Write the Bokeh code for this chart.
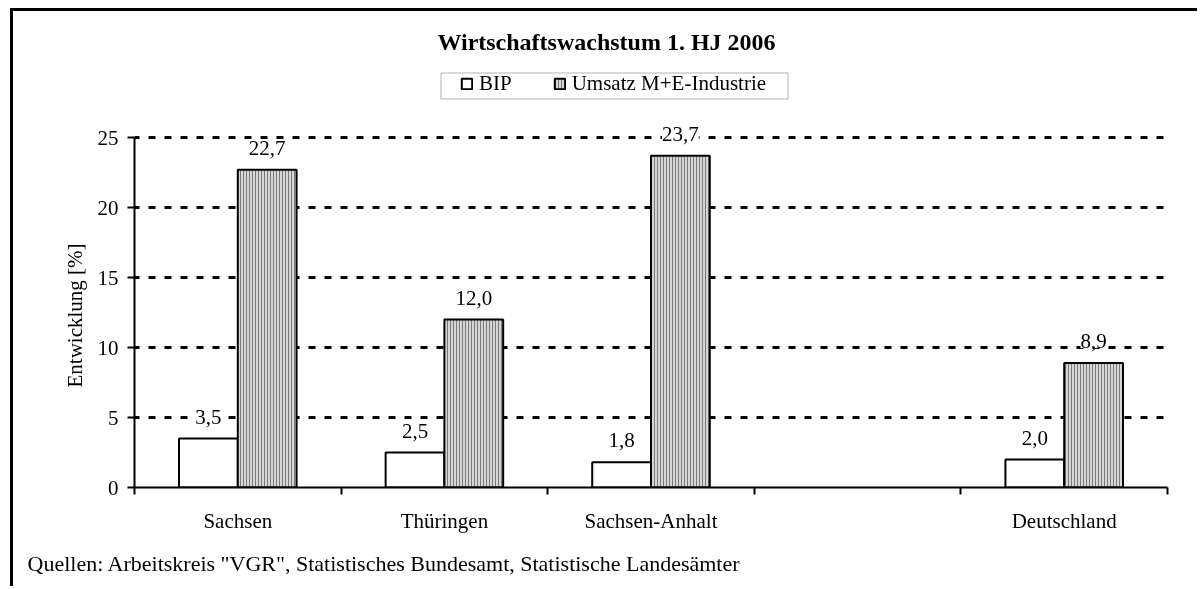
from bokeh.plotting import figure
from bokeh.models import (Range1d, FixedTicker, Label, Legend, LegendItem,
                          BoxAnnotation, ColumnDataSource, Title)
from bokeh.core.properties import value
from bokeh.embed import file_html
from bokeh.resources import INLINE

# ---- data -------------------------------------------------------------
categories = ["Sachsen", "Thüringen", "Sachsen-Anhalt", "", "Deutschland"]
bip = [3.5, 2.5, 1.8, None, 2.0]
umsatz = [22.7, 12.0, 23.7, None, 8.9]
series_names = ["BIP", "Umsatz M+E-Industrie"]
y_ticks = [0, 5, 10, 15, 20, 25]
title_text = "Wirtschaftswachstum 1. HJ 2006"
y_label = "Entwicklung [%]"
source_text = 'Quellen: Arbeitskreis "VGR", Statistisches Bundesamt, Statistische Landesämter'

# ---- styling ----------------------------------------------------------
FONT = "Liberation Serif"
FS = "21px"
W, H = 1187, 578
BW = 0.2845
Y_TOP = 34  # headroom above the 25 line for title and legend


def fmt(v):
    return f"{v:.1f}".replace(".", ",")


def build(vals, shift):
    xs, tops, labels = [], [], []
    for i, v in enumerate(vals):
        if v is None:
            continue
        xs.append(i + 0.5 + shift)
        tops.append(v)
        labels.append(fmt(v))
    return ColumnDataSource(dict(x=xs, top=tops, label=labels))


p = figure(width=W, height=H, output_backend="svg", toolbar_location=None,
           x_range=Range1d(0, len(categories)), y_range=Range1d(y_ticks[0], Y_TOP),
           min_border_left=121, min_border_right=33, min_border_top=0,
           min_border_bottom=102, title=None)
p.outline_line_color = None
p.background_fill_color = "white"
p.border_fill_color = "white"
# outer chart frame: only its left and top edges are visible in the picture
p.styles = {"position": "fixed", "left": "13px", "top": "11px",
            "box-shadow": "-3px -3px 0px 0px black"}

# grid
p.xgrid.visible = False
p.ygrid.grid_line_color = "black"
p.ygrid.grid_line_width = 3
p.ygrid.grid_line_dash = "7 9"
p.ygrid.grid_line_dash_offset = 2

# y axis
p.yaxis.ticker = FixedTicker(ticks=y_ticks)
p.yaxis.bounds = (y_ticks[0], y_ticks[-1])
p.yaxis.axis_line_color = "black"
p.yaxis.axis_line_width = 2
p.yaxis.major_tick_line_color = "black"
p.yaxis.major_tick_line_width = 2
p.yaxis.major_tick_out = 7
p.yaxis.major_tick_in = 0
p.yaxis.minor_tick_line_color = None
p.yaxis.major_label_text_font = FONT
p.yaxis.major_label_text_font_size = FS
p.yaxis.major_label_text_color = "black"
p.yaxis.major_label_standoff = 9

# y axis title, placed along the 0..25 part of the axis
p.add_layout(Title(text=y_label, align="left", offset=100, standoff=16,
                   text_font=FONT, text_font_size=FS, text_font_style="normal",
                   text_color="black"), "left")

# x axis: labels at category centres, tick marks at category borders
p.xaxis.ticker = FixedTicker(ticks=[i + 0.5 for i in range(len(categories))],
                             minor_ticks=list(range(len(categories) + 1)))
p.xaxis.major_label_overrides = {i + 0.5: c for i, c in enumerate(categories)}
p.xaxis.axis_line_color = "black"
p.xaxis.axis_line_width = 2
p.xaxis.major_tick_line_color = None
p.xaxis.major_tick_out = 0
p.xaxis.major_tick_in = 0
p.xaxis.minor_tick_line_color = "black"
p.xaxis.minor_tick_line_width = 2
p.xaxis.minor_tick_out = 7
p.xaxis.minor_tick_in = 0
p.xaxis.major_label_text_font = FONT
p.xaxis.major_label_text_font_size = FS
p.xaxis.major_label_text_color = "black"
p.xaxis.major_label_standoff = 14

# bars
src_b = build(bip, -BW / 2)
src_u = build(umsatz, BW / 2)
r1 = p.vbar(x="x", top="top", bottom=0, width=BW, source=src_b,
            fill_color="white", line_color="black", line_width=2)
r2 = p.vbar(x="x", top="top", bottom=0, width=BW, source=src_u,
            fill_color="#d6d6d6", hatch_pattern="|", hatch_color="#7a7a7a",
            hatch_scale=3, hatch_weight=1, line_color="black", line_width=2)

for src in (src_b, src_u):
    p.text(x="x", y="top", text="label", source=src, y_offset=-22,
           text_align="center", text_baseline="middle",
           text_font=value(FONT), text_font_size=FS, text_color="black",
           background_fill_color="white")

# title
p.add_layout(Label(x=472, y=446, x_units="screen", y_units="screen",
                   text=title_text, text_font=FONT, text_font_style="bold",
                   text_font_size="24px", text_align="center",
                   text_baseline="alphabetic", text_color="black"))

# legend box
p.add_layout(BoxAnnotation(left=306.5, right=653.5, top=414.5, bottom=388.5,
                           left_units="screen", right_units="screen",
                           top_units="screen", bottom_units="screen",
                           fill_color="white", fill_alpha=1,
                           line_color="black", line_width=1))
legend = Legend(items=[LegendItem(label=series_names[0], renderers=[r1]),
                       LegendItem(label=series_names[1], renderers=[r2])],
                orientation="horizontal", location=(326, 391), padding=0,
                margin=0, spacing=41, label_standoff=6, glyph_width=13,
                glyph_height=13, label_text_font=FONT, label_text_font_size=FS,
                label_text_color="black", border_line_color=None,
                background_fill_alpha=0)
p.add_layout(legend)

# source note below the category labels
p.add_layout(Title(text=source_text, align="left", offset=-107, standoff=27,
                   text_font=FONT, text_font_size="22px", text_font_style="normal",
                   text_color="black"), "below")

open("out.html", "w").write(file_html(p, INLINE))
